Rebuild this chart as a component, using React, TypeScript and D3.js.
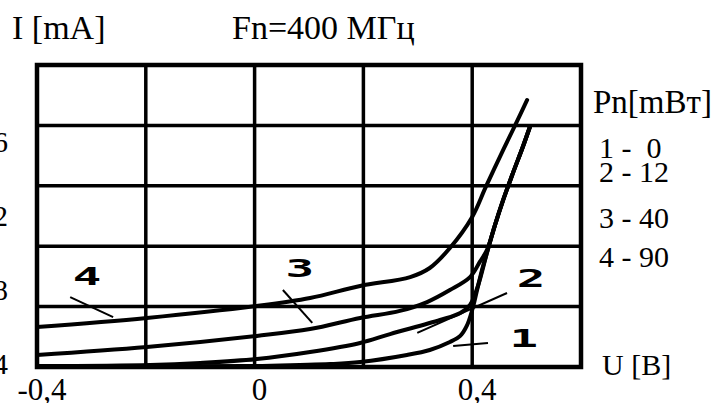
import React from 'react';
import * as d3 from 'd3';

// axis ticks
const uTicks = [-0.4, 0, 0.4];
const uTickLabels = ['-0,4', '0', '0,4'];
const iTicks = [4, 8, 12, 16];
const iTickLabels = ['4', '8', '12', '16'];
const gridU = [-0.4, -0.2, 0, 0.2, 0.4, 0.6];

// legend: Pn in mW per curve
const curveNames = ['1', '2', '3', '4'];
const powerLegend = ['1 -  0', '2 - 12', '3 - 40', '4 - 90'];

// curves, U [V] and I [mA]
const u1 = [-0.4, -0.008, 0.083, 0.139, 0.194, 0.28, 0.322, 0.359, 0.378, 0.39, 0.4, 0.409, 0.418, 0.427, 0.442, 0.457, 0.475, 0.493, 0.506];
const i1 = [3.89, 3.89, 3.95, 4.0, 4.11, 4.49, 4.76, 5.19, 5.52, 6.06, 6.92, 8.0, 9.08, 10.0, 11.52, 12.87, 14.33, 15.73, 16.81];

const u2 = [-0.4, -0.192, -0.1, 0.004, 0.102, 0.194, 0.249, 0.341, 0.378, 0.396, 0.411, 0.427, 0.442, 0.457, 0.475, 0.493, 0.506];
const i2 = [3.89, 3.95, 4.06, 4.27, 4.65, 5.14, 5.62, 6.38, 6.76, 7.19, 8.27, 10.0, 11.52, 12.87, 14.33, 15.73, 16.81];

const u3 = [-0.4, -0.198, 0.004, 0.102, 0.194, 0.267, 0.317, 0.359, 0.396, 0.414, 0.427, 0.442, 0.457, 0.475, 0.493, 0.506];
const i3 = [4.49, 4.92, 5.52, 5.89, 6.49, 6.87, 7.35, 8.0, 8.7, 9.52, 10.16, 11.52, 12.87, 14.33, 15.73, 16.81];

const u4 = [-0.4, -0.198, 0.004, 0.102, 0.194, 0.286, 0.322, 0.359, 0.4, 0.425, 0.457, 0.481, 0.501];
const i4 = [6.0, 6.49, 7.14, 7.57, 8.22, 8.7, 9.19, 10.27, 11.95, 13.57, 15.57, 17.03, 18.27];

// where the curve numbers sit and their leader lines, in U/I units
const labelU = [0.495, 0.508, 0.083, -0.308];
const labelI = [4.92, 8.16, 8.70, 8.27];
const leaderU = [[0.365, 0.429], [0.299, 0.464], [0.052, 0.106], [-0.339, -0.26]];
const leaderI = [[4.98, 5.14], [5.68, 7.84], [8.0, 6.22], [7.62, 6.54]];

const W = 717;
const H = 403;
const left = 37, right = 581, top = 65, bottom = 367;

export default function App() {
  const x = d3.scaleLinear().domain([-0.4, 0.6]).range([left, right]);
  const y = d3.scaleLinear().domain([3.84, 20.16]).range([bottom, top]);
  const rows = d3.scaleLinear().domain([0, 5]).range([bottom, top]);

  const line = d3.line<[number, number]>()
    .x(d => x(d[0]))
    .y(d => y(d[1]))
    .curve(d3.curveCatmullRom.alpha(0.5));

  const curves = [
    d3.zip(u1, i1),
    d3.zip(u2, i2),
    d3.zip(u3, i3),
    d3.zip(u4, i4),
  ] as [number, number][][];

  const serif = '"Liberation Serif", "Times New Roman", serif';

  return (
    <svg width={W} height={H} style={{ position: 'absolute', left: 0, top: 0, background: '#fff' }}>
      {/* grid */}
      <g stroke="#000" strokeWidth={3.5}>
        {gridU.slice(1, -1).map(u => (
          <line key={'v' + u} x1={x(u)} x2={x(u)} y1={top} y2={bottom} />
        ))}
        {d3.range(1, 5).map(r => (
          <line key={'h' + r} x1={left} x2={right} y1={rows(r)} y2={rows(r)} />
        ))}
      </g>
      <rect x={left} y={top} width={right - left} height={bottom - top} fill="none" stroke="#000" strokeWidth={4.5} />

      {/* curves */}
      <g fill="none" stroke="#000" strokeWidth={4} strokeLinejoin="round" strokeLinecap="round">
        {curves.map((c, k) => <path key={k} d={line(c) ?? ''} />)}
      </g>

      {/* leader lines */}
      <g stroke="#000" strokeWidth={2}>
        {leaderU.map((lu, k) => (
          <line key={k} x1={x(lu[0])} y1={y(leaderI[k][0])} x2={x(lu[1])} y2={y(leaderI[k][1])} />
        ))}
      </g>

      {/* curve numbers */}
      {curveNames.map((n, k) => (
        <g key={n} transform={`translate(${x(labelU[k])},${y(labelI[k])}) scale(1.9,1)`}>
          <text textAnchor="middle" fontFamily='"DejaVu Sans Mono", monospace' fontWeight="bold" fontSize={25}>{n}</text>
        </g>
      ))}

      {/* axis tick labels */}
      <g fontFamily={serif} fontSize={31} textAnchor="middle">
        {uTicks.map((u, k) => (
          <text key={u} x={x(u) + 5} y={400}>{uTickLabels[k]}</text>
        ))}
      </g>
      <g fontFamily={serif} fontSize={30} textAnchor="end">
        {iTicks.map((v, k) => (
          <text key={v} x={8} y={y(v) + 10}>{iTickLabels[k]}</text>
        ))}
      </g>

      {/* titles */}
      <text x={12} y={39} fontFamily={serif} fontSize={34}>I [mA]</text>
      <text x={232} y={39} fontFamily={serif} fontSize={34}>Fn=400 МГц</text>
      <text x={593} y={113} fontFamily={serif} fontSize={33}>Pn[mВт]</text>
      <g fontFamily={serif} fontSize={30}>
        {powerLegend.map((t, k) => (
          <text key={t} x={599} y={[158, 182, 228, 267][k]} xmlSpace="preserve" style={{ whiteSpace: 'pre' }}>{t}</text>
        ))}
      </g>
      <text x={602} y={375} fontFamily={serif} fontSize={30}>U [В]</text>
    </svg>
  );
}
